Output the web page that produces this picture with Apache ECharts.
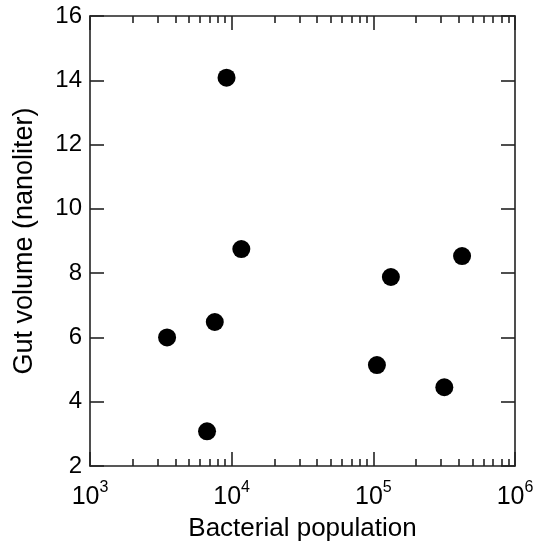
<!DOCTYPE html>
<html>
<head>
<meta charset="utf-8">
<script src="https://cdn.jsdelivr.net/npm/echarts@6/dist/echarts.min.js"></script>
<style>html,body{margin:0;padding:0;background:#fff}#c{width:538px;height:550px}</style>
</head>
<body>
<div id="c"></div>
<script>
const bacterialPopulation = [3500, 6700, 7600, 9200, 11700, 106000, 133000, 317000, 423000];
const gutVolume = [6.0, 3.08, 6.48, 14.08, 8.75, 5.14, 7.88, 4.45, 8.53];
const xMajorTicks = [1000, 10000, 100000, 1000000];
const xMinorTicks = [2000,3000,4000,5000,6000,7000,8000,9000,20000,30000,40000,50000,60000,70000,80000,90000,200000,300000,400000,500000,600000,700000,800000,900000];
const yTicks = [2, 4, 6, 8, 10, 12, 14, 16];

const FONT = 'Liberation Sans, Arial, Helvetica, sans-serif';
const LINE = {color: '#222', width: 1.6};
const points = bacterialPopulation.map((x, i) => [x, gutVolume[i]]);

function xAxisCfg(pos, major, showLabel) {
  return {
    type: 'log', logBase: 10, min: 1000, max: 1000000, position: pos,
    gridIndex: 0,
    axisLine: {show: major, onZero: false, lineStyle: LINE},
    axisTick: {show: true, inside: true, length: major ? 14 : 7, lineStyle: LINE,
               customValues: major ? xMajorTicks : xMinorTicks},
    axisLabel: {show: showLabel, margin: 14, fontFamily: FONT, color: '#000',
      customValues: xMajorTicks,
      formatter: v => '{b|10}{s|' + Math.round(Math.log10(v)) + '}',
      rich: {
        b: {fontSize: 25, fontFamily: FONT, color: '#000', verticalAlign: 'bottom', lineHeight: 30},
        s: {fontSize: 16, fontFamily: FONT, color: '#000', verticalAlign: 'top', lineHeight: 30}
      }},
    splitLine: {show: false},
    minorTick: {show: false},
    name: showLabel ? 'Bacterial population' : '',
    nameLocation: 'middle', nameGap: 50,
    nameTextStyle: {fontSize: 26, fontFamily: FONT, color: '#000'}
  };
}
function yAxisCfg(pos, showLabel) {
  return {
    type: 'value', min: yTicks[0], max: yTicks[yTicks.length - 1], interval: 2, position: pos,
    axisLine: {show: true, onZero: false, lineStyle: LINE},
    axisTick: {show: true, inside: true, length: 14, lineStyle: LINE},
    axisLabel: {show: showLabel, margin: 8, fontSize: 24, fontFamily: FONT, color: '#000'},
    splitLine: {show: false},
    name: showLabel ? 'Gut volume (nanoliter)' : '',
    nameLocation: 'middle', nameGap: 52, nameRotate: 90,
    nameTextStyle: {fontSize: 27, fontFamily: FONT, color: '#000'}
  };
}

const chart = echarts.init(document.getElementById('c'), null, {renderer: 'canvas'});
chart.setOption({
  backgroundColor: '#fff',
  animation: false,
  grid: {left: 90, right: 23, top: 16, bottom: 84, containLabel: false},
  xAxis: [
    xAxisCfg('bottom', true, true),
    xAxisCfg('bottom', false, false),
    xAxisCfg('top', true, false),
    xAxisCfg('top', false, false)
  ],
  yAxis: [yAxisCfg('left', true), yAxisCfg('right', false)],
  series: [{
    type: 'scatter', xAxisIndex: 0, yAxisIndex: 0,
    data: points, symbol: 'circle', symbolSize: 18,
    itemStyle: {color: '#000', opacity: 1}
  }]
});
</script>
</body>
</html>
